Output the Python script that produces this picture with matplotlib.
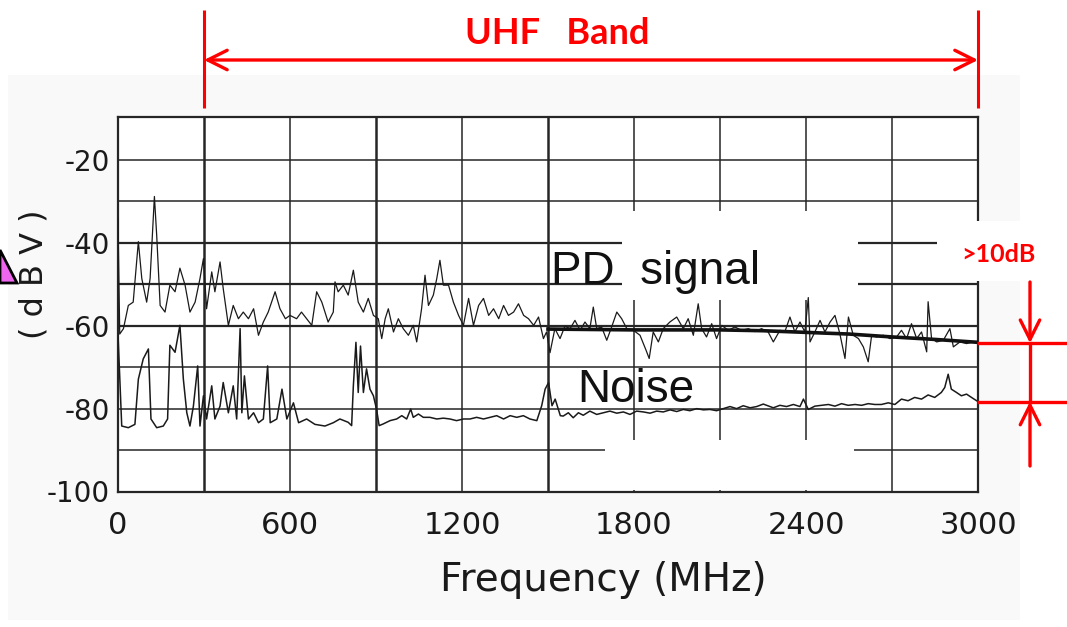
import matplotlib
matplotlib.use("Agg")
import matplotlib.pyplot as plt
import matplotlib.transforms as mtransforms
from matplotlib.patches import Rectangle, Polygon, Arc

# PD signal spectrum (MHz, dBV)
pd_freq = [
    0, 6, 19, 36, 53, 71, 83, 100, 112, 127,
    135, 147, 164, 181, 199, 216, 234, 251, 269, 286,
    298, 309, 327, 338, 356, 367, 385, 402, 420, 437,
    455, 473, 490, 507, 524, 548, 565, 584, 600, 623,
    640, 658, 676, 693, 711, 733, 751, 757, 768, 786,
    803, 821, 838, 856, 873, 891, 908, 920, 932, 943,
    961, 978, 995, 1013, 1030, 1042, 1059, 1071, 1083, 1100,
    1112, 1123, 1135, 1153, 1170, 1188, 1205, 1223, 1240, 1258,
    1275, 1293, 1310, 1328, 1345, 1362, 1380, 1397, 1415, 1432,
    1450, 1467, 1484, 1495, 1507, 1524, 1542, 1559, 1577, 1594,
    1612, 1629, 1646, 1658, 1670, 1687, 1705, 1722, 1740, 1757,
    1775, 1798, 1821, 1842, 1853, 1867, 1885, 1902, 1925, 1949,
    1972, 1989, 2007, 2024, 2036, 2053, 2071, 2088, 2106, 2129,
    2152, 2175, 2199, 2222, 2245, 2268, 2286, 2309, 2326, 2344,
    2361, 2379, 2396, 2408, 2414, 2431, 2449, 2466, 2484, 2501,
    2518, 2536, 2548, 2565, 2583, 2600, 2617, 2629, 2646, 2670,
    2693, 2716, 2733, 2751, 2768, 2786, 2803, 2821, 2826, 2838,
    2856, 2879, 2902, 2914, 2937, 2960, 2984, 3000,
]
pd_db = [
    -34, -62, -60.7, -55.1, -54.3, -39.7, -48.6, -54.3, -48.6, -28.8,
    -38.2, -55.1, -56.7, -50.2, -51.8, -46.1, -50.2, -56.7, -54.3, -48.6,
    -43.8, -55.9, -47.0, -51.8, -44.6, -51.0, -59.9, -55.1, -58.3, -56.7,
    -58.3, -55.9, -62.3, -59.1, -56.7, -51.8, -55.9, -58.3, -57.5, -58.3,
    -56.7, -58.3, -59.9, -51.8, -54.3, -59.1, -56.7, -49.4, -51.8, -50.2,
    -52.6, -46.6, -54.3, -56.7, -53.4, -57.5, -58.3, -63.1, -58.3, -55.9,
    -61.5, -58.3, -60.7, -62.3, -59.9, -63.9, -55.9, -47.8, -55.1, -52.6,
    -48.6, -44.2, -50.2, -50.2, -54.3, -57.5, -59.9, -53.4, -59.9, -55.1,
    -53.4, -57.5, -55.9, -58.3, -55.1, -57.5, -56.7, -54.7, -57.5, -58.3,
    -59.9, -57.9, -63.1, -61.5, -66.5, -60.7, -63.1, -60.1, -60.7, -58.7,
    -61.1, -59.1, -60.7, -55.5, -60.7, -60.3, -63.5, -60.3, -56.7, -58.3,
    -60.7, -61.1, -62.3, -65.9, -67.9, -61.5, -63.9, -60.7, -59.1, -57.9,
    -60.7, -58.3, -62.3, -54.7, -60.7, -62.7, -59.5, -63.1, -59.9, -61.1,
    -60.3, -61.1, -60.7, -61.4, -60.7, -61.5, -63.9, -61.1, -61.5, -57.9,
    -61.5, -59.1, -61.5, -53.2, -63.9, -61.5, -58.7, -61.5, -59.1, -57.5,
    -61.9, -67.9, -57.9, -62.3, -63.1, -65.1, -68.7, -62.3, -62.7, -62.3,
    -63.1, -62.7, -61.1, -63.1, -59.5, -63.1, -61.5, -66.3, -54.2, -63.1,
    -63.9, -63.5, -60.7, -65.1, -63.9, -64.3, -63.9, -64.2,
]

# dense band of the PD trace above 1500 MHz
pd_band_freq = [1500, 1800, 2100, 2250, 2400, 2550, 2700, 2850, 3000]
pd_band_db = [-60.8, -61.0, -61.0, -61.2, -61.6, -62.0, -62.7, -63.3, -64.0]

# noise spectrum (MHz, dBV)
noise_freq = [
    0, 13, 36, 59, 71, 88, 106, 115, 135, 158,
    173, 181, 199, 216, 228, 240, 251, 263, 278, 286,
    298, 309, 327, 338, 356, 367, 385, 402, 414, 426,
    432, 441, 455, 473, 490, 507, 522, 531, 554, 572,
    589, 612, 630, 658, 687, 722, 751, 774, 803, 815,
    821, 830, 838, 846, 856, 867, 879, 891, 902, 911,
    925, 949, 972, 990, 1007, 1021, 1030, 1048, 1065, 1088,
    1112, 1135, 1158, 1181, 1205, 1228, 1251, 1275, 1298, 1321,
    1345, 1368, 1391, 1414, 1437, 1461, 1478, 1490, 1502, 1514,
    1525, 1543, 1553, 1571, 1588, 1606, 1623, 1646, 1670, 1693,
    1716, 1740, 1763, 1786, 1809, 1833, 1856, 1879, 1902, 1926,
    1949, 1972, 1995, 2019, 2042, 2065, 2088, 2112, 2135, 2158,
    2181, 2205, 2228, 2251, 2274, 2286, 2309, 2332, 2356, 2379,
    2391, 2408, 2431, 2454, 2478, 2501, 2524, 2547, 2571, 2594,
    2617, 2640, 2663, 2687, 2710, 2733, 2756, 2779, 2803, 2826,
    2849, 2872, 2884, 2896, 2907, 2925, 2942, 2960, 2984, 3000,
]
noise_db = [
    -62, -84.2, -84.6, -83.8, -72.9, -68.0, -65.6, -82.5, -84.6, -84.2,
    -82.5, -64.7, -66.4, -59.9, -72.9, -81.0, -84.2, -79.4, -69.7, -84.2,
    -76.9, -82.5, -74.5, -82.5, -79.4, -73.7, -81.0, -74.5, -82.5, -60.7,
    -81.0, -72.1, -82.5, -81.0, -83.4, -82.5, -69.7, -83.4, -82.5, -75.3,
    -82.5, -78.6, -83.4, -82.5, -83.8, -84.2, -83.4, -82.5, -83.3, -84.1,
    -74.5, -64.0, -76.1, -64.9, -76.1, -70.4, -75.3, -76.9, -80.2, -84.1,
    -83.7, -82.9, -82.5, -81.7, -82.5, -80.1, -82.1, -81.3, -82.1, -82.1,
    -82.5, -82.3, -82.5, -82.9, -82.5, -82.5, -82.1, -82.5, -82.1, -81.7,
    -82.5, -81.7, -82.1, -81.7, -82.5, -82.9, -79.3, -75.3, -73.7, -79.3,
    -77.7, -81.7, -81.8, -81.0, -82.2, -81.0, -81.6, -80.6, -81.4, -81.0,
    -80.6, -81.1, -80.8, -81.4, -80.6, -80.8, -81.1, -80.6, -80.8, -80.3,
    -80.7, -80.2, -80.5, -80.0, -80.3, -80.2, -80.5, -80.0, -79.5, -80.0,
    -79.3, -79.8, -79.5, -78.9, -79.5, -79.8, -79.2, -79.5, -79.0, -79.5,
    -77.7, -80.2, -79.4, -79.2, -79.0, -79.4, -78.8, -79.2, -79.0, -79.2,
    -78.8, -79.0, -79.0, -78.6, -79.0, -77.7, -78.1, -77.3, -77.7, -76.7,
    -77.3, -76.1, -74.9, -71.7, -75.3, -76.1, -76.9, -76.5, -77.6, -78.3,
]

assert len(pd_freq) == len(pd_db)
assert len(noise_freq) == len(noise_db)

x_ticks = [0, 600, 1200, 1800, 2400, 3000]
y_ticks = [-100, -80, -60, -40, -20]
uhf_start, uhf_end = 300, 3000

W, H = 1067, 627
fig = plt.figure(figsize=(W / 100, H / 100), dpi=100)
fig.patch.set_facecolor("white")
# scanned-page background
fig.add_artist(Rectangle((8 / W, 7 / H), 1012 / W, 545 / H, transform=fig.transFigure,
                         facecolor="#f9f9f9", edgecolor="none", zorder=-1))

ax = fig.add_axes([118 / W, 1 - 491.5 / H, 860 / W, 375 / H])
ax.set_xlim(0, 3000)
ax.set_ylim(-100, -9.5)
ax.set_facecolor("white")

grid_col = "#262626"
for f in range(300, 3000, 300):
    lw = 1.8 if f in (300, 900, 1500) else 1.1
    ax.axvline(f, color=grid_col, lw=lw, zorder=1)
for d in range(-90, -10, 10):
    lw = 1.6 if d in (-40, -50, -60) else 1.1
    ax.axhline(d, color=grid_col, lw=lw, zorder=1)

# white boxes that cut the grid behind the labels
ax.add_patch(Rectangle((1758, -53.8), 823, 21.5, facecolor="white", edgecolor="none", zorder=1.5))
ax.add_patch(Rectangle((1699, -99.7), 869, 12.2, facecolor="white", edgecolor="none", zorder=1.5))

ax.plot(pd_freq, pd_db, color="#1a1a1a", lw=0.9, zorder=3)
ax.plot(pd_band_freq, pd_band_db, color="#111111", lw=2.6, zorder=3)
ax.plot(noise_freq, noise_db, color="#1a1a1a", lw=1.1, zorder=3)

for s in ax.spines.values():
    s.set_linewidth(1.6)
    s.set_color(grid_col)

ax.set_xticks(x_ticks)
ax.set_xticklabels([str(v) for v in x_ticks], fontsize=22, family="DejaVu Sans")
ax.set_yticks(y_ticks)
ax.set_yticklabels([str(v) for v in y_ticks], fontsize=20, family="DejaVu Sans")
ax.tick_params(axis="both", length=0, colors="#1a1a1a")
ax.tick_params(axis="x", pad=14)
ax.tick_params(axis="y", pad=6)

fig.text(603 / W, 1 - 580 / H, "Frequency (MHz)", fontsize=28, family="DejaVu Sans",
         color="#1a1a1a", ha="center", va="center")
fig.text(34 / W, 1 - 274 / H, "( d B V )", fontsize=23, family="DejaVu Sans",
         color="#1a1a1a", ha="center", va="center", rotation=90)

# overlay in pixel coordinates for labels and red annotations
over = fig.add_axes([0, 0, 1, 1], zorder=5)
over.set_xlim(0, W)
over.set_ylim(H, 0)
over.axis("off")
over.patch.set_alpha(0)

over.text(551, 284, "PD  signal", fontsize=33, family="Liberation Sans", color="#111111",
          va="baseline", ha="left")
over.text(577, 402, "Noise", fontsize=33, family="Liberation Sans", color="#111111",
          va="baseline", ha="left")

red = "#ff0000"
tr_top = mtransforms.blended_transform_factory(ax.transData, over.transData)
tr_right = mtransforms.blended_transform_factory(over.transData, ax.transData)

for f in (uhf_start, uhf_end):
    over.plot([f, f], [10, 108], color=red, lw=2.2, transform=tr_top, solid_capstyle="butt")
over.annotate("", xy=(uhf_start, 60), xytext=(uhf_end, 60), xycoords=tr_top, textcoords=tr_top,
              arrowprops=dict(arrowstyle="<->,head_length=0.7,head_width=0.35", color=red,
                              lw=2.4, mutation_scale=20, shrinkA=0, shrinkB=0))
over.text(557, 33, "UHF   Band", color=red, fontsize=26, family="Lato", fontweight="bold",
          ha="center", va="center")

pd_end = pd_db[-1]
noise_end = noise_db[-1]
for lvl in (pd_end, noise_end):
    over.plot([977, W], [lvl, lvl], color=red, lw=2.4, transform=tr_right, solid_capstyle="butt")
over.plot([1030, 1030], [pd_end, noise_end], color=red, lw=2.4, transform=tr_right)
over.annotate("", xy=(1030, pd_end), xytext=(1030, 282), xycoords=tr_right, textcoords="data",
              arrowprops=dict(arrowstyle="->,head_length=0.7,head_width=0.35", color=red,
                              lw=2.4, mutation_scale=20, shrinkA=0, shrinkB=0))
over.annotate("", xy=(1030, noise_end), xytext=(1030, 466), xycoords=tr_right, textcoords="data",
              arrowprops=dict(arrowstyle="->,head_length=0.7,head_width=0.35", color=red,
                              lw=2.4, mutation_scale=20, shrinkA=0, shrinkB=0))

over.add_patch(Rectangle((937, 221), 108, 60, facecolor="white", edgecolor="none"))
over.text(998, 254, ">10dB", color=red, fontsize=18, family="Lato", fontweight="bold",
          ha="center", va="center")

# fragments of neighbouring drawing elements
over.add_patch(Arc((-62, -62), 170, 170, theta1=0, theta2=90, color=red, lw=2.4))
over.add_patch(Polygon([(0, 250), (17, 283), (0, 283)], closed=True, facecolor="#ee66ee",
                       edgecolor="black", lw=2))

fig.savefig("out.png", dpi=100)
